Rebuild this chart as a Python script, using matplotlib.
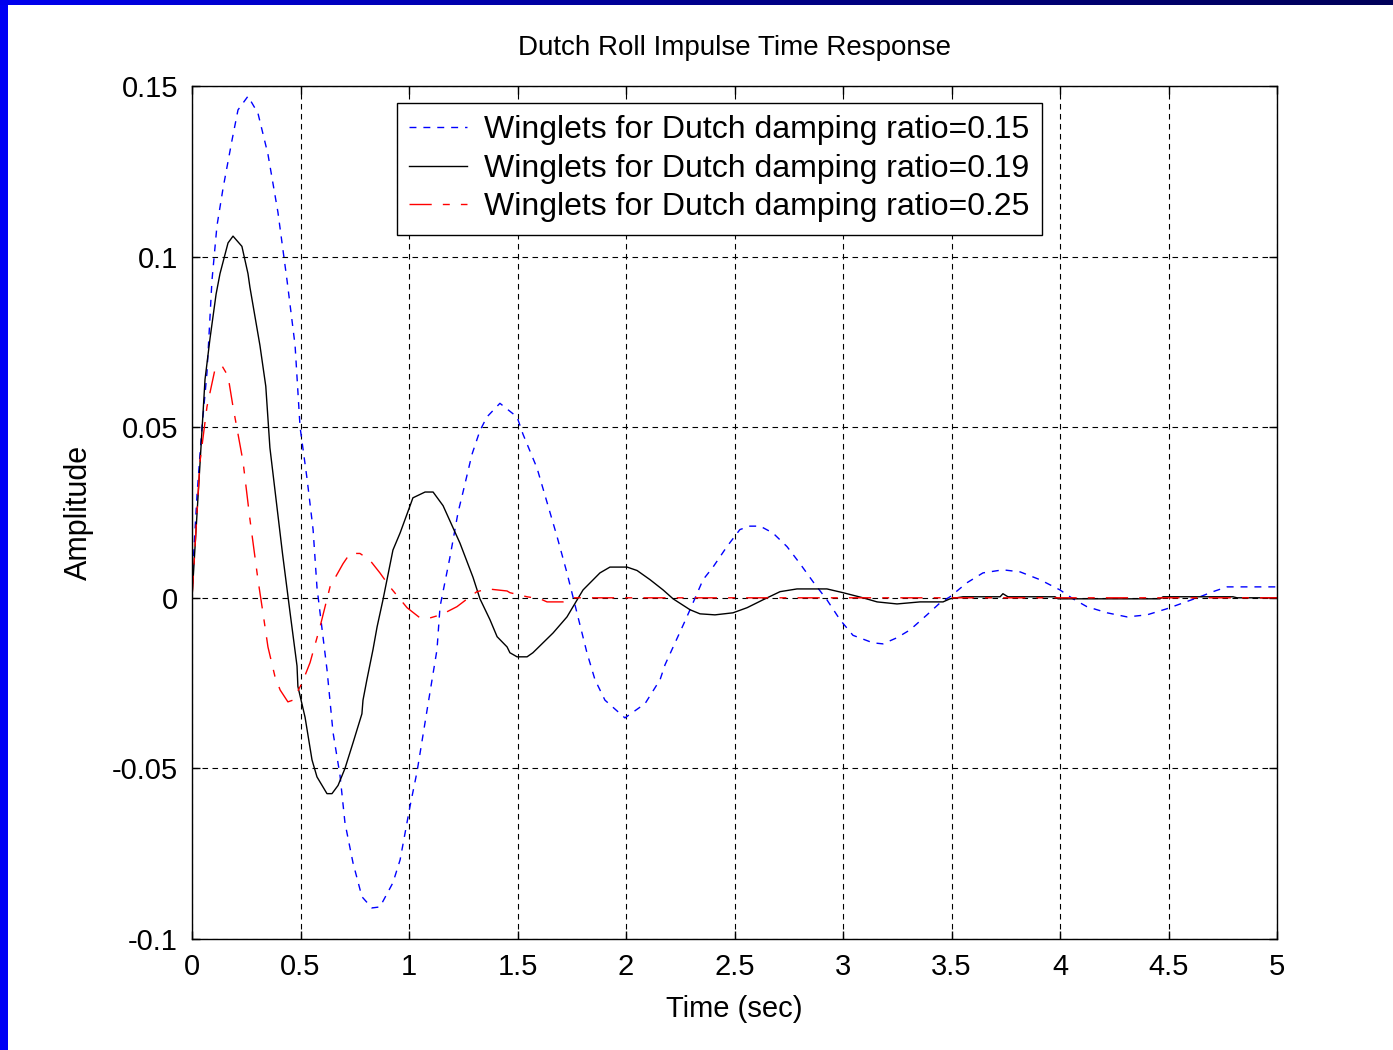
import numpy as np
import matplotlib
matplotlib.use('Agg')
import matplotlib.pyplot as plt

# values
t_015 = [0, 0.005, 0.023, 0.046, 0.069, 0.092, 0.115, 0.143, 0.184, 0.212, 0.258, 0.304,
         0.350, 0.396, 0.438, 0.475, 0.498, 0.530, 0.558, 0.576, 0.622, 0.650, 0.682, 0.705,
         0.742, 0.783, 0.829, 0.866, 0.926, 0.959, 1.005, 1.037, 1.083, 1.129, 1.143, 1.189,
         1.226, 1.249, 1.290, 1.327, 1.359, 1.419, 1.498, 1.525, 1.590, 1.636, 1.682, 1.728,
         1.774, 1.820, 1.857, 1.903, 1.995, 2.088, 2.157, 2.180, 2.272, 2.295, 2.355, 2.401,
         2.465, 2.525, 2.571, 2.618, 2.677, 2.742, 2.802, 2.862, 2.926, 2.986, 3.046, 3.138,
         3.184, 3.249, 3.309, 3.387, 3.447, 3.493, 3.571, 3.645, 3.737, 3.816, 3.908, 4.000,
         4.060, 4.124, 4.217, 4.309, 4.401, 4.493, 4.567, 4.645, 4.705, 4.770, 5.0]
amp_015 = [0, 0.010, 0.030, 0.050, 0.066, 0.093, 0.109, 0.120, 0.134, 0.143, 0.147, 0.142,
           0.130, 0.113, 0.093, 0.074, 0.050, 0.035, 0.020, 0.003, -0.021, -0.0395, -0.052, -0.066,
           -0.0777, -0.0876, -0.0909, -0.0906, -0.0835, -0.0768, -0.061, -0.051, -0.033, -0.0152, -0.0026, 0.012,
           0.025, 0.031, 0.042, 0.049, 0.053, 0.057, 0.053, 0.048, 0.038, 0.028, 0.018, 0.0073,
           -0.0044, -0.0161, -0.024, -0.030, -0.0352, -0.031, -0.024, -0.0196, -0.0068, -0.0035, 0.0053, 0.009,
           0.015, 0.020, 0.021, 0.021, 0.019, 0.015, 0.010, 0.0047, -0.0006, -0.0064, -0.011, -0.0132,
           -0.0135, -0.0117, -0.0094, -0.005, -0.0015, 0.0003, 0.0044, 0.0073, 0.0082, 0.0076, 0.0053, 0.0023,
           -0.0003, -0.0026, -0.0044, -0.0056, -0.005, -0.0032, -0.0015, 0.0003, 0.0018, 0.0032, 0.0032]

t_019 = [0, 0.060, 0.083, 0.111, 0.129, 0.166, 0.189, 0.230, 0.258, 0.267, 0.313, 0.340,
         0.359, 0.417, 0.452, 0.484, 0.488, 0.521, 0.553, 0.576, 0.622, 0.645, 0.673, 0.705,
         0.742, 0.783, 0.788, 0.806, 0.834, 0.853, 0.880, 0.926, 0.959, 1.005, 1.018, 1.074,
         1.111, 1.157, 1.235, 1.295, 1.327, 1.373, 1.406, 1.452, 1.465, 1.498, 1.544, 1.571,
         1.664, 1.728, 1.756, 1.802, 1.880, 1.926, 2.005, 2.051, 2.111, 2.171, 2.217, 2.295,
         2.341, 2.410, 2.493, 2.558, 2.631, 2.710, 2.788, 2.926, 3.000, 3.092, 3.157, 3.249,
         3.355, 3.461, 3.493, 3.553, 3.724, 3.737, 3.760, 3.977, 3.991, 4.461, 4.475, 4.797,
         4.816, 5.0]
amp_019 = [0, 0.064, 0.076, 0.089, 0.095, 0.104, 0.106, 0.103, 0.095, 0.091, 0.074, 0.062,
           0.044, 0.013, -0.0044, -0.020, -0.026, -0.035, -0.0475, -0.0525, -0.0574, -0.0574, -0.055, -0.050,
           -0.0425, -0.034, -0.030, -0.024, -0.0152, -0.0085, -0.0006, 0.014, 0.019, 0.027, 0.0293, 0.031,
           0.031, 0.027, 0.016, 0.006, -0.0003, -0.0064, -0.0114, -0.0144, -0.0161, -0.0173, -0.0173, -0.0161,
           -0.0103, -0.0056, -0.0026, 0.0023, 0.0073, 0.009, 0.009, 0.008, 0.0053, 0.0023, -0.0003, -0.0035,
           -0.0047, -0.005, -0.0044, -0.0029, -0.0006, 0.0018, 0.0026, 0.0026, 0.0015, 0.0, -0.0012, -0.0018,
           -0.0012, -0.0012, -0.0003, 0.0003, 0.0003, 0.0012, 0.0003, 0.0003, -0.0003, -0.0003, 0.0003, 0.0003,
           0.0, 0.0]

t_025 = [0, 0.005, 0.023, 0.037, 0.069, 0.106, 0.138, 0.166, 0.189, 0.235, 0.267, 0.304,
         0.327, 0.350, 0.382, 0.406, 0.442, 0.465, 0.507, 0.544, 0.590, 0.636, 0.696, 0.728,
         0.774, 0.820, 0.866, 0.912, 0.991, 1.051, 1.097, 1.129, 1.175, 1.221, 1.281, 1.313,
         1.364, 1.452, 1.465, 1.544, 1.604, 1.636, 1.710, 1.756, 5.0]
amp_025 = [0, 0.005, 0.025, 0.040, 0.056, 0.067, 0.068, 0.065, 0.056, 0.040, 0.023, 0.0053,
           -0.0044, -0.0144, -0.023, -0.027, -0.0305, -0.030, -0.025, -0.019, -0.0085, 0.0032, 0.010, 0.013,
           0.013, 0.011, 0.0073, 0.0032, -0.0029, -0.0059, -0.0059, -0.0053, -0.0041, -0.0026, 0.0003, 0.0018,
           0.0026, 0.002, 0.0015, 0.0003, -0.0003, -0.0012, -0.0012, 0.0, 0.0]

labels = ['Winglets for Dutch damping ratio=0.15',
          'Winglets for Dutch damping ratio=0.19',
          'Winglets for Dutch damping ratio=0.25']
xticks = [0, 0.5, 1, 1.5, 2, 2.5, 3, 3.5, 4, 4.5, 5]
xticklabels = ['0', '0.5', '1', '1.5', '2', '2.5', '3', '3.5', '4', '4.5', '5']
yticks = [-0.1, -0.05, 0, 0.05, 0.1, 0.15]
yticklabels = ['-0.1', '-0.05', '0', '0.05', '0.1', '0.15']

plt.rcParams['font.family'] = ['Liberation Sans', 'DejaVu Sans']

W, H = 1393, 1050
fig = plt.figure(figsize=(W / 100, H / 100), dpi=100)
fig.patch.set_facecolor('white')

# slide border: blue strip on the left, gradient bar on top
left_strip = fig.add_axes([0, 0, 8 / W, 1])
left_strip.set_axis_off()
left_strip.add_patch(plt.Rectangle((0, 0), 1, 1, color=(0, 0, 0.96), transform=left_strip.transAxes))

top_bar = fig.add_axes([0, 1 - 5 / H, 1, 5 / H])
grad = np.linspace(0, 1, 256).reshape(1, -1)
top_bar.imshow(grad, aspect='auto', cmap=matplotlib.colors.LinearSegmentedColormap.from_list(
    'slide', [(0, 0, 0.94), (0, 0, 0.55), (0, 0, 0.35)]), extent=[0, 1, 0, 1])
top_bar.set_axis_off()

ax = fig.add_axes([192 / W, 1 - 939 / H, (1277 - 192) / W, (939 - 86) / H])
ax.plot(t_015, amp_015, color='blue', linestyle=(0, (5, 5)), linewidth=1, label=labels[0])
ax.plot(t_019, amp_019, color='black', linestyle='-', linewidth=1, label=labels[1])
ax.plot(t_025, amp_025, color='red', linestyle=(0, (16, 8, 5, 8)), linewidth=1, label=labels[2])

ax.set_xlim(0, 5)
ax.set_ylim(-0.1, 0.15)
ax.set_xticks(xticks)
ax.set_xticklabels(xticklabels)
ax.set_yticks(yticks)
ax.set_yticklabels(yticklabels)
ax.grid(True, color='black', linestyle=(0, (5, 4)), linewidth=0.8)
ax.tick_params(direction='in', length=6, width=1, top=True, right=True,
               labelsize=21, pad=10)
for s in ax.spines.values():
    s.set_linewidth(1)

ax.set_title('Dutch Roll Impulse Time Response', fontsize=20, pad=22)
ax.set_xlabel('Time (sec)', fontsize=21, labelpad=10)
ax.set_ylabel('Amplitude', fontsize=22, labelpad=13)

leg = ax.legend(loc='upper left', bbox_to_anchor=((397 - 192) / 1085, (939 - 103) / 853),
                fontsize=23, frameon=True, fancybox=False, edgecolor='black', framealpha=1,
                borderaxespad=0, handlelength=1.8, handletextpad=0.55, labelspacing=0.27,
                borderpad=0.38)
leg.get_frame().set_linewidth(1)

fig.savefig('out.png', dpi=100)
